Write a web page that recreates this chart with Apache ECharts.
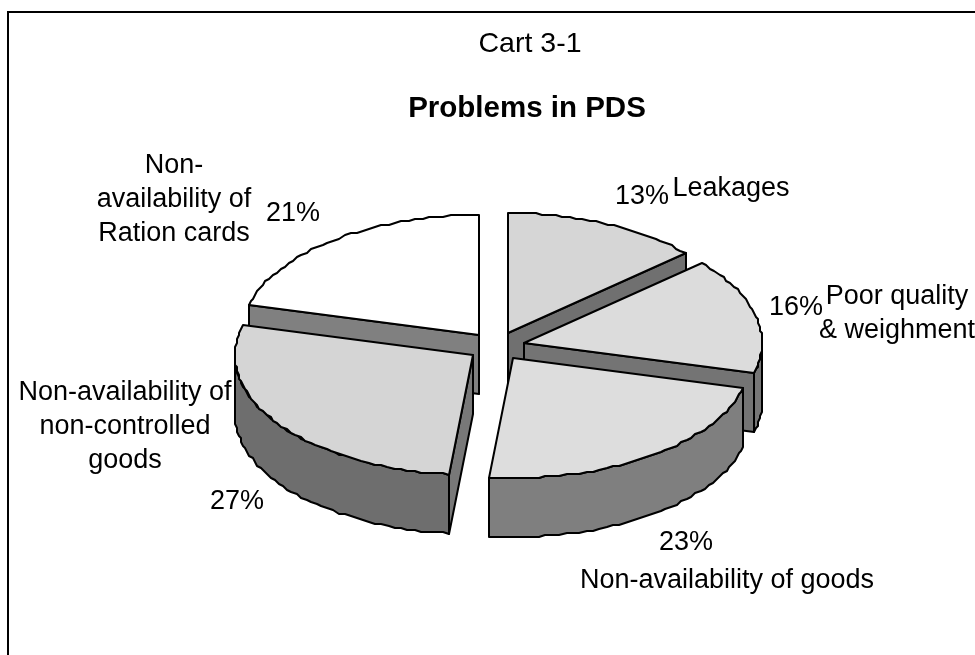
<!DOCTYPE html>
<html>
<head>
<meta charset="utf-8">
<style>
  html, body { margin: 0; padding: 0; background: #fff; }
  #main { width: 975px; height: 655px; }
</style>
<script src="https://cdn.jsdelivr.net/npm/echarts@6/dist/echarts.min.js"></script>
</head>
<body>
<div id="main"></div>
<script>
// chart data
const problemNames = [
  "Leakages",
  "Poor quality\n& weighment",
  "Non-availability of goods",
  "Non-availability of\nnon-controlled\ngoods",
  "Non-\navailability of\nRation cards",
];
// read from the slice edges, the labels show these rounded
const problemShares = [13.4, 15.6, 22.6, 27.4, 21];

// slice colours, same order as the data
const topColors = ["#d6d6d6", "#dcdcdc", "#dddddd", "#d5d5d5", "#ffffff"];
const wallColors = ["#707070", "#777777", "#7f7f7f", "#6e6e6e", "#808080"];
const faceColors = ["#707070", "#747474", "#7f7f7f", "#787878", "#808080"];

// label centres in pixels, same order as the data
const shareSpots = [[642, 197], [796, 308], [686, 543], [237, 502], [293, 214]];
const nameSpots = [[731, 189], [897, 314], [727, 581], [125, 427], [174, 200]];

// the tilted pie
const cx = 496.5, cy = 346.5, rx = 238, ry = 120, depth = 59, explode = 0.12;
const labelFont = '27px "Liberation Sans", Arial, sans-serif';

const total = problemShares.reduce((a, b) => a + b, 0);
const starts = [];
problemShares.reduce((sum, v, i) => { starts[i] = sum; return sum + v; }, 0);
const toAngle = (share) => (share / total) * Math.PI * 2;

// angle runs clockwise from 12 o'clock, snapped to a 2px grid for the stepped rim
function onRim(ox, oy, a) {
  return [
    ox + Math.round((rx * Math.sin(a)) / 2) * 2,
    oy - Math.round((ry * Math.cos(a)) / 2) * 2,
  ];
}
function arcPoints(ox, oy, from, to) {
  const pts = [];
  const steps = Math.max(2, Math.ceil((to - from) / 0.03));
  for (let s = 0; s <= steps; s++) pts.push(onRim(ox, oy, from + ((to - from) * s) / steps));
  return pts;
}
function poly(points, fill) {
  return {
    type: "polygon",
    shape: { points },
    style: { fill, stroke: "#000", lineWidth: 2, lineJoin: "round" },
  };
}
function renderSlice(params, api) {
  const i = api.value(0);
  const a0 = toAngle(starts[i]);
  const a1 = a0 + toAngle(api.value(1));
  const mid = (a0 + a1) / 2;
  const ox = Math.round(cx + explode * rx * Math.sin(mid));
  const oy = Math.round(cy - explode * ry * Math.cos(mid));
  const children = [];

  // radial cut faces that turn towards the viewer
  [[a0, Math.sin(a0) < -1e-6, faceColors[i]], [a1, Math.sin(a1) > 1e-6, faceColors[i]]].forEach(([a, show, fill]) => {
    if (!show) return;
    const p = onRim(ox, oy, a);
    children.push(poly([[ox, oy], p, [p[0], p[1] + depth], [ox, oy + depth]], fill));
  });

  // outer wall, only the front half of the rim
  const w0 = Math.max(a0, Math.PI / 2);
  const w1 = Math.min(a1, (Math.PI * 3) / 2);
  if (w1 > w0) {
    const upper = arcPoints(ox, oy, w0, w1);
    const lower = upper.map((p) => [p[0], p[1] + depth]).reverse();
    children.push(poly(upper.concat(lower), wallColors[i]));
  }

  // top of the slice
  children.push(poly([[ox, oy]].concat(arcPoints(ox, oy, a0, a1)), topColors[i]));
  return { type: "group", children };
}
function renderLabels(params, api) {
  const i = api.value(0);
  const text = (x, y, t) => ({
    type: "text",
    style: { x, y, text: t, font: labelFont, fill: "#000", align: "center", verticalAlign: "middle", lineHeight: 34 },
  });
  return {
    type: "group",
    children: [
      text(shareSpots[i][0], shareSpots[i][1], Math.round(api.value(1)) + "%"),
      text(nameSpots[i][0], nameSpots[i][1], problemNames[i]),
    ],
  };
}

// back slices first, front slices paint over them
const rows = problemShares.map((v, i) => [i, v]);
const depthOf = (r) => Math.cos(toAngle(starts[r[0]] + r[1] / 2));
const drawOrder = rows.slice().sort((a, b) => depthOf(b) - depthOf(a));

const myChart = echarts.init(document.getElementById("main"), null, { renderer: "canvas" });
const option = {
  animation: false,
  backgroundColor: "#fff",
  title: [
    {
      text: "Cart 3-1",
      left: 525,
      top: 25,
      textAlign: "center",
      textStyle: { fontFamily: "Liberation Sans", fontSize: 28.5, fontWeight: "normal", color: "#000" },
    },
    {
      text: "Problems in PDS",
      left: 522,
      top: 89,
      textAlign: "center",
      textStyle: { fontFamily: "Liberation Sans", fontSize: 29.5, fontWeight: "bold", color: "#000" },
    },
  ],
  graphic: [
    {
      type: "polyline",
      shape: { points: [[8, 660], [8, 12], [980, 12]] },
      style: { fill: null, stroke: "#000", lineWidth: 2 },
    },
  ],
  series: [
    { type: "custom", coordinateSystem: "none", silent: true, data: drawOrder, renderItem: renderSlice, z: 2 },
    { type: "custom", coordinateSystem: "none", silent: true, data: rows, renderItem: renderLabels, z: 3 },
  ],
};
myChart.setOption(option);
</script>
</body>
</html>
